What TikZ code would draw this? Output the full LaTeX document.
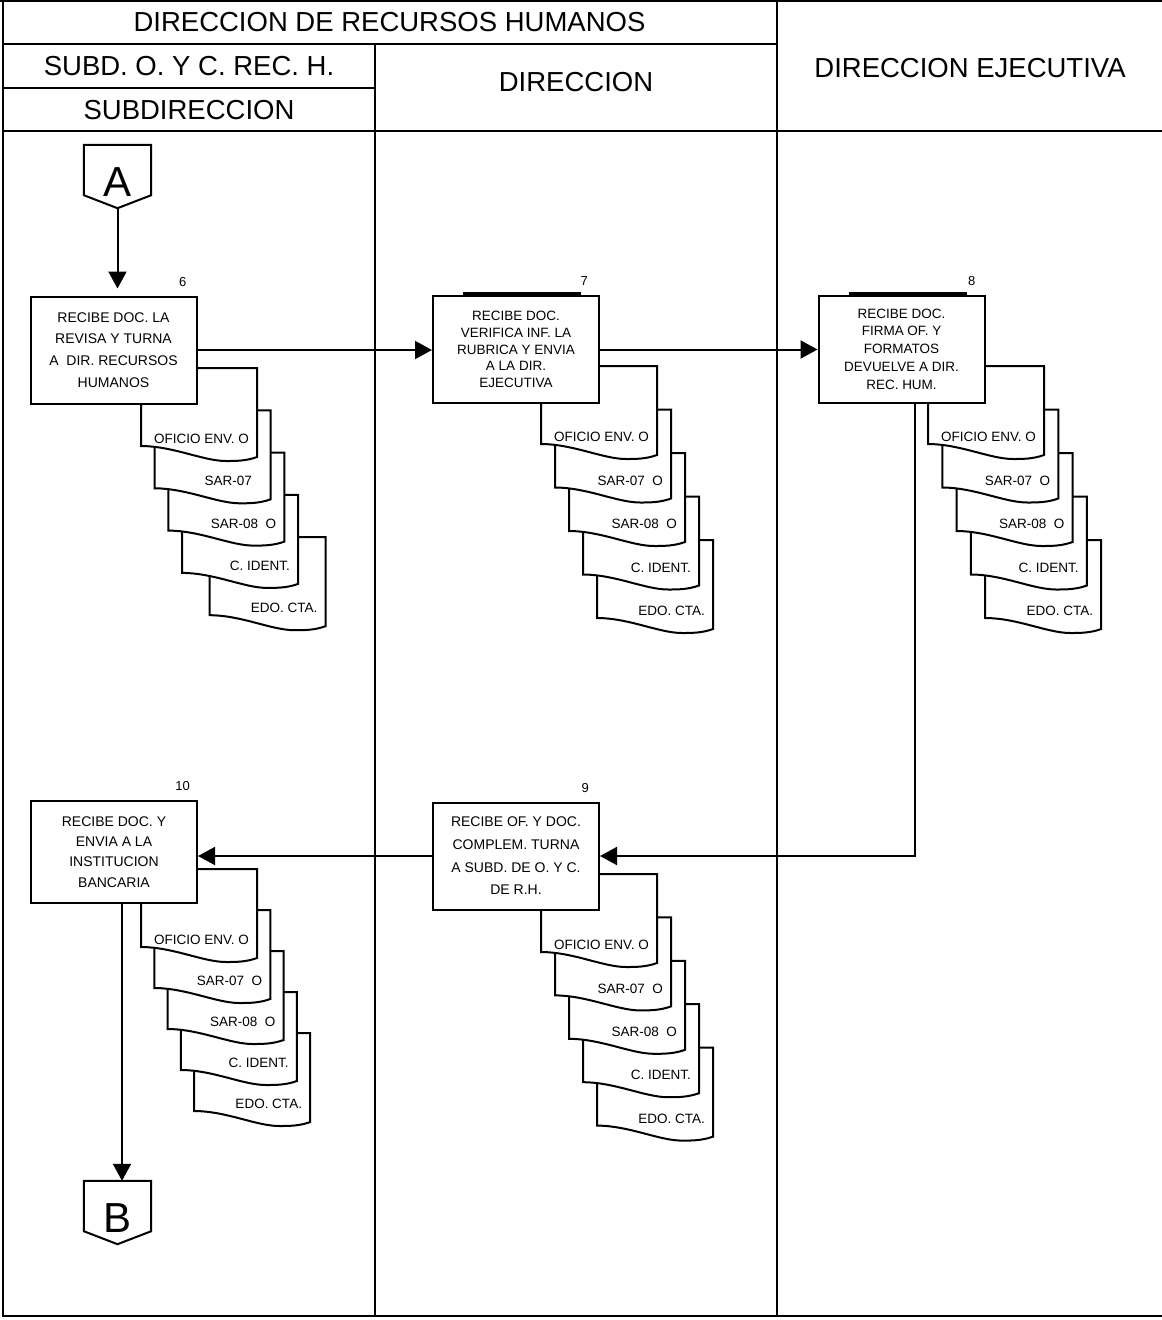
\documentclass[tikz,border=0pt]{standalone}
\usepackage{fontspec}
\setmainfont{Liberation Sans}
\usetikzlibrary{arrows.meta,positioning,calc}

\tikzset{
  linea/.style={line width=2pt},
  flecha/.style={line width=2pt, -{Triangle[length=17pt,width=18pt]}},
  caja/.style={draw, line width=2pt, fill=white, align=center, inner sep=2pt,
    minimum width=166pt, minimum height=107pt, font=\fontsize{14}{21.7}\selectfont},
  numero/.style={inner sep=0pt, font=\fontsize{13}{13}\selectfont},
  cabecera/.style={inner sep=0pt, font=\fontsize{27.5}{27.5}\selectfont},
  documento/.style={draw, line width=2pt, fill=white},
  doctexto/.style={anchor=east, inner sep=0pt, font=\fontsize{13.5}{13.5}\selectfont},
  conector/.style={inner sep=0pt, minimum width=67pt, text height=51pt, text depth=12pt,
    font=\fontsize{42}{42}\selectfont},
  barra/.style={line width=3pt}
}

% pila de documentos: nombre, x, y, paso x, paso y, desplaz. ultimo, texto SAR-07
\newcommand{\pila}[7]{%
  \foreach \i/\k/\t in {4/#6/EDO. CTA., 3/3/C. IDENT., 2/2/SAR-08~~O, 1/1/#7, 0/0/OFICIO ENV. O} {
    \pgfmathsetmacro{\xa}{#2+\k*#4}
    \pgfmathsetmacro{\ya}{#3+\i*#5}
    \draw[documento] (\xa,\ya) -- ({\xa+116},\ya) -- ({\xa+116},{\ya+89})
      .. controls ({\xa+105},{\ya+93}) and ({\xa+95},{\ya+93}) .. ({\xa+85},{\ya+93})
      .. controls ({\xa+62},{\ya+93}) and ({\xa+32},{\ya+78}) .. (\xa,{\ya+78}) -- cycle;
    \node[doctexto] (#1-\i) at ({\xa+108},{\ya+71}) {\t};
  }%
}

\begin{document}
\begin{tikzpicture}[x=1pt, y=-1pt]
    \useasboundingbox (0,0) rectangle (1162,1320);

    % Encabezado
    \draw[linea] (0,1) -- (1162,1);
    \draw[linea] (2.5,1) -- (2.5,1316) -- (1162,1316);
    \draw[linea] (2.5,44) -- (777,44);
    \draw[linea] (2.5,87.5) -- (375,87.5);
    \draw[linea] (2.5,131) -- (1162,131);
    \draw[linea] (375,44) -- (375,1316);
    \draw[linea] (777,1) -- (777,1316);

    \node[cabecera] (h-drh) at (389.5,22.5) {DIRECCION DE RECURSOS HUMANOS};
    \node[cabecera] (h-subd) at (189,66) {SUBD. O. Y C. REC. H.};
    \node[cabecera] (h-sub) at (189,110) {SUBDIRECCION};
    \node[cabecera] (h-dir) at (576,82) {DIRECCION};
    \node[cabecera] (h-de) at (970,68) {DIRECCION EJECUTIVA};

    % Documentos
    \pila{p6}{141}{368}{13.7}{42.3}{5}{SAR-07\phantom{O}}
    \pila{p7}{541}{366}{14}{43.5}{4}{SAR-07~~O}
    \pila{p8}{928}{366}{14.3}{43.5}{4}{SAR-07~~O}
    \pila{p9}{541}{874}{14}{43.4}{4}{SAR-07~~O}
    \pila{p10}{141}{869}{13.3}{41}{4}{SAR-07~~O}

    % Actividades
    \node[caja] (b6) at (113.5,350) {RECIBE DOC. LA\\REVISA Y TURNA\\A\ \ DIR. RECURSOS\\HUMANOS};
    \node[caja, font=\fontsize{13.5}{16.7}\selectfont] (b7) at (516,349.5)
        {RECIBE DOC.\\VERIFICA INF. LA\\RUBRICA Y ENVIA\\A LA DIR.\\EJECUTIVA};
    \node[caja, font=\fontsize{13.5}{17.7}\selectfont] (b8) at (901.5,349)
        {RECIBE DOC.\\FIRMA OF. Y\\FORMATOS\\DEVUELVE A DIR.\\REC. HUM.};
    \node[caja, font=\fontsize{14}{22.7}\selectfont] (b9) at (516,856)
        {RECIBE OF. Y DOC.\\COMPLEM. TURNA\\A SUBD. DE O. Y C.\\DE R.H.};
    \node[caja, minimum height=102pt, font=\fontsize{14}{20.3}\selectfont] (b10) at (114,852)
        {RECIBE DOC. Y\\ENVIA A LA\\INSTITUCION\\BANCARIA};

    \foreach \n in {b7,b8}
        \draw[barra] ([xshift=31pt,yshift=1.5pt]\n.north west) -- ([xshift=149pt,yshift=1.5pt]\n.north west);

    % Numeros
    \node[numero, above left=9pt and 11pt of b6.north east] (n6) {6};
    \node[numero, above left=9pt and 12pt of b7.north east] (n7) {7};
    \node[numero, above left=9pt and 10pt of b8.north east] (n8) {8};
    \node[numero, above left=9pt and 11pt of b9.north east] (n9) {9};
    \node[numero, above left=9pt and 8pt of b10.north east] (n10) {10};

    % Conectores
    \node[conector] (conA) at (117.5,176.5) {A};
    \node[conector] (conB) at (117.5,1212.5) {B};
    \foreach \c in {conA,conB}
        \draw[linea] (\c.north west) -- (\c.north east) -- ([yshift=13pt]\c.south east)
            -- (\c.south) -- ([yshift=13pt]\c.south west) -- cycle;

    % Flujo
    \draw[flecha, shorten >=7pt] (conA.south) -- (conA.south |- b6.north);
    \draw[flecha] (b6.east) -- (b6.east -| b7.west);
    \draw[flecha] (b7.east) -- (b7.east -| b8.west);
    \draw[flecha] ([xshift=13.5pt]b8.south) |- (b9.east);
    \draw[flecha] (b9.west) -- (b9.west -| b10.east);
    \draw[flecha] ([xshift=8pt]b10.south) -- ([xshift=8pt]b10.south |- conB.north);
\end{tikzpicture}
\end{document}
